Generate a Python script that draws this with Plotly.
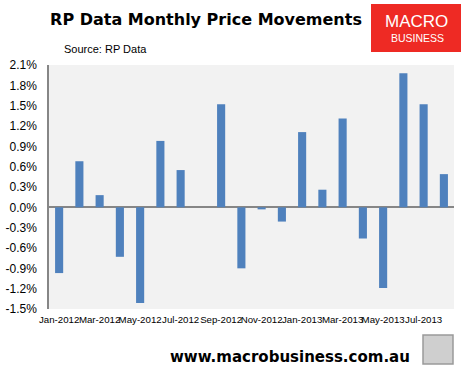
import plotly.graph_objects as go

months = ["Jan-2012", "Feb-2012", "Mar-2012", "Apr-2012", "May-2012", "Jun-2012",
          "Jul-2012", "Aug-2012", "Sep-2012", "Oct-2012", "Nov-2012", "Dec-2012",
          "Jan-2013", "Feb-2013", "Mar-2013", "Apr-2013", "May-2013", "Jun-2013",
          "Jul-2013", "Aug-2013"]
changes = [-0.97, 0.68, 0.18, -0.73, -1.41, 0.98, 0.55, 0.0, 1.52, -0.90,
           -0.03, -0.21, 1.11, 0.26, 1.31, -0.46, -1.19, 1.98, 1.52, 0.49]
y_ticks = [-1.5, -1.2, -0.9, -0.6, -0.3, 0.0, 0.3, 0.6, 0.9, 1.2, 1.5, 1.8, 2.1]
y_tick_text = ["%.1f%%" % v for v in y_ticks]
x_tick_labels = months[::2]

W, H = 466, 373
L, R, T, B = 49, 454, 65, 309


def px(x):
    return (x - L) / (R - L)


def py(y):
    return (B - y) / (B - T)


fig = go.Figure(go.Bar(x=months, y=changes, marker_color="#4F81BD",
                       marker_line_width=0))

fig.update_layout(
    width=W, height=H,
    margin=dict(l=L, r=W - R, t=T, b=H - B, autoexpand=False),
    paper_bgcolor="white", plot_bgcolor="#F2F2F2",
    bargap=0.6, showlegend=False,
    font=dict(family="Liberation Sans", color="black"),
    title=dict(text="<b>RP Data Monthly Price Movements</b>", x=206 / W, xanchor="center",
               xref="container", yref="container",
               y=1 - 19 / H, yanchor="middle", font=dict(size=16, family="DejaVu Sans")),
)
fig.update_xaxes(type="category", tickmode="array", tickvals=x_tick_labels,
                 ticktext=x_tick_labels, tickangle=0, showgrid=False, automargin=False,
                 showline=False, ticks="", ticklabelstandoff=3,
                 tickfont=dict(size=9.7, family="Liberation Sans"))
fig.update_yaxes(range=[-1.5, 2.1], tickmode="array", tickvals=y_ticks, automargin=False,
                 ticktext=y_tick_text, showgrid=False, zeroline=True,
                 zerolinecolor="#868686", zerolinewidth=1.5,
                 showline=True, linecolor="#868686", linewidth=1.5,
                 ticks="", tickfont=dict(size=12, family="Liberation Sans"),
                 ticklabelstandoff=8)

fig.add_annotation(text="Source: RP Data", xref="paper", yref="paper",
                   x=px(62), y=py(49), xanchor="left", yanchor="middle",
                   showarrow=False, font=dict(size=11, family="Liberation Sans"))
# Logo box
fig.add_shape(type="rect", xref="paper", yref="paper",
              x0=px(371), x1=px(461), y0=py(52), y1=py(4),
              fillcolor="#EE2A24", line_width=0, layer="above")
fig.add_annotation(text="MACRO", xref="paper", yref="paper",
                   x=px(416), y=py(22), showarrow=False, xanchor="center", yanchor="middle",
                   font=dict(size=17, color="white", family="Liberation Sans"))
fig.add_annotation(text="BUSINESS", xref="paper", yref="paper",
                   x=px(417), y=py(38), showarrow=False, xanchor="center", yanchor="middle",
                   font=dict(size=10.5, color="white", family="Liberation Sans"))
# Footer
fig.add_annotation(text="<b>www.macrobusiness.com.au</b>", xref="paper", yref="paper",
                   x=px(290), y=py(357), showarrow=False, xanchor="center", yanchor="middle",
                   font=dict(size=15, family="DejaVu Sans"))
fig.add_shape(type="rect", xref="paper", yref="paper",
              x0=px(423), x1=px(453), y0=py(364), y1=py(335),
              fillcolor="#CFCFCF", line=dict(color="#9A9A9A", width=1.5))

fig.write_html("out.html", config={"displayModeBar": False},
               post_script="document.body.style.margin='0';"
                           "document.body.style.overflow='hidden';")
